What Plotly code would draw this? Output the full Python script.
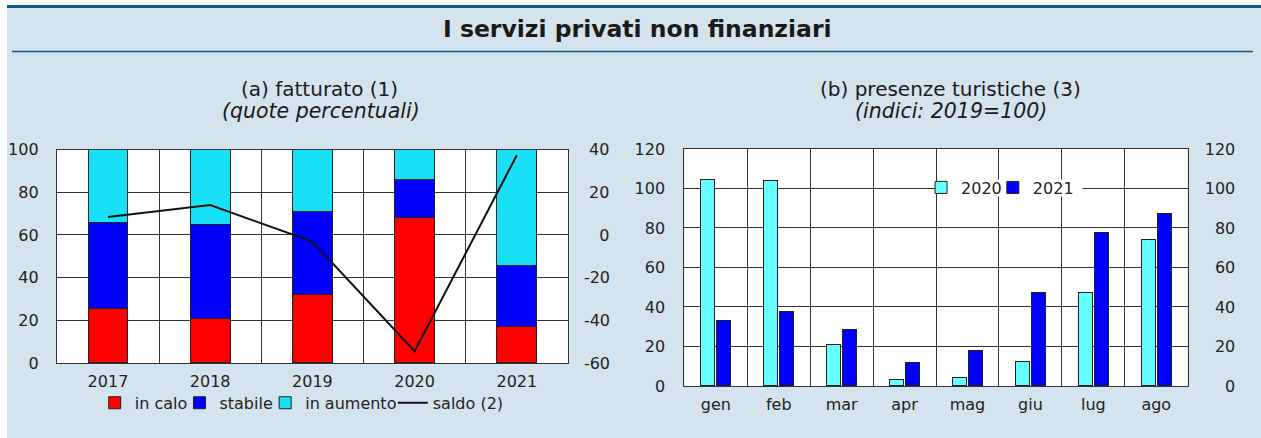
import plotly.graph_objects as go

# ---- data ----
years = ["2017", "2018", "2019", "2020", "2021"]
in_calo = [25.6, 20.9, 32.2, 68.4, 17.1]
stabile = [40.4, 44.2, 38.7, 17.7, 28.4]
in_aumento = [34.0, 34.9, 29.1, 13.9, 54.5]
saldo = [8.4, 14.0, -3.1, -54.5, 37.4]

months = ["gen", "feb", "mar", "apr", "mag", "giu", "lug", "ago"]
pres_2020 = [104.5, 104.0, 21.2, 3.5, 4.4, 12.6, 47.4, 73.9]
pres_2021 = [33.3, 37.9, 28.8, 12.1, 17.7, 47.4, 77.9, 87.5]

quote_ticks = [0, 20, 40, 60, 80, 100]
saldo_ticks = [-60, -40, -20, 0, 20, 40]
saldo_labels = ["-60", "-40", "-20", "\u2008\u20070", "\u200820", "\u200840"]
indici_ticks = [0, 20, 40, 60, 80, 100, 120]
indici_labels_right = ["\u2007\u20070", "\u200720", "\u200740", "\u200760", "\u200780", "100", "120"]

# page: 1261x438 window, default 8px body margin around the figure
PAGE_W, PAGE_H = 1261, 438
OFF = 8
W, H = PAGE_W - 2 * OFF, PAGE_H - 2 * OFF
BG = "#d3e4ee"
DARK = "#0b5c85"
TXT = "#222222"
FONT = "DejaVu Sans, Arial, sans-serif"
GRID = "#333333"
FS = 16

# observed vertical mapping of the photographed page (image_y = A + B * page_y)
A_Y, B_Y = 8.25, 0.958


def px(x):
    """target picture x pixel -> figure paper fraction"""
    return (x - OFF) / W


def py(y):
    """target picture y pixel -> figure paper fraction"""
    page_y = (y - A_Y) / B_Y
    return 1 - (page_y - OFF) / H


fig = go.Figure()

outline = dict(color="#222222", width=1)
fig.add_trace(go.Bar(x=years, y=in_calo, name="in calo", marker=dict(color="#ff0000", line=outline),
                     width=0.39, xaxis="x", yaxis="y", legend="legend"))
fig.add_trace(go.Bar(x=years, y=stabile, name="stabile", marker=dict(color="#0000ff", line=outline),
                     width=0.39, xaxis="x", yaxis="y", legend="legend2"))
fig.add_trace(go.Bar(x=years, y=in_aumento, name="in aumento", marker=dict(color="#19e1f5", line=outline),
                     width=0.39, xaxis="x", yaxis="y", legend="legend3"))
fig.add_trace(go.Scatter(x=years, y=saldo, name="saldo (2)", mode="lines",
                         line=dict(color="#111111", width=2), xaxis="x", yaxis="y2", legend="legend4"))

fig.add_trace(go.Bar(x=months, y=pres_2020, name="2020", marker=dict(color="#66ffff", line=outline),
                     xaxis="x3", yaxis="y3", offsetgroup="b20", legend="legend5"))
fig.add_trace(go.Bar(x=months, y=pres_2021, name="2021", marker=dict(color="#0000ff", line=outline),
                     xaxis="x3", yaxis="y3", offsetgroup="b21", legend="legend6"))
# invisible trace to activate the right axis of panel (b)
fig.add_trace(go.Scatter(x=months, y=pres_2020, xaxis="x3", yaxis="y4", mode="markers",
                         marker=dict(opacity=0), showlegend=False, hoverinfo="skip"))

tfont = dict(family=FONT, size=FS, color=TXT)
ax_common = dict(showline=True, linecolor=GRID, linewidth=1, mirror=True,
                 tickfont=tfont, ticks="", zeroline=False)


def legend_at(text_left, y):
    # plotly puts the legend text ~40 px right of the legend box's left edge
    return dict(orientation="h", x=px(text_left - 44), xanchor="left", y=py(y), yanchor="middle",
                bgcolor="rgba(0,0,0,0)", borderwidth=0, font=tfont, itemwidth=30)


fig.update_layout(
    width=W, height=H,
    margin=dict(l=0, r=0, t=0, b=0),
    paper_bgcolor=BG, plot_bgcolor="white",
    barmode="stack",
    bargap=0.49, bargroupgap=0.125,
    font=dict(family=FONT, size=FS, color=TXT),
    xaxis=dict(domain=[px(53), px(565.7)], anchor="y", type="category", tickson="boundaries",
               showgrid=True, gridcolor=GRID, gridwidth=1, ticklabelstandoff=4, **ax_common),
    yaxis=dict(domain=[py(363), py(149)], anchor="x", range=[0, 100],
               tickvals=quote_ticks,
               showgrid=True, gridcolor=GRID, gridwidth=1, ticklabelstandoff=14, **ax_common),
    yaxis2=dict(overlaying="y", side="right", anchor="x", range=[-60, 40],
                tickvals=saldo_ticks, ticktext=saldo_labels,
                showgrid=False, showline=False, ticks="", zeroline=False,
                tickfont=tfont, ticklabelstandoff=15),
    xaxis3=dict(domain=[px(682.5), px(1187.5)], anchor="y3", type="category", tickson="boundaries",
                showgrid=True, gridcolor=GRID, gridwidth=1, ticklabelstandoff=4, **ax_common),
    yaxis3=dict(domain=[py(386), py(148.3)], anchor="x3", range=[0, 120],
                tickvals=indici_ticks,
                showgrid=True, gridcolor=GRID, gridwidth=1, ticklabelstandoff=15, **ax_common),
    yaxis4=dict(overlaying="y3", side="right", anchor="x3", range=[0, 120],
                tickvals=indici_ticks, ticktext=indici_labels_right,
                showgrid=False, showline=False, ticks="", zeroline=False,
                tickfont=tfont, ticklabelstandoff=16),
    legend=legend_at(135, 403),
    legend2=legend_at(220, 403),
    legend3=legend_at(306, 403),
    legend4=legend_at(434, 403),
    legend5=legend_at(964, 187),
    legend6=legend_at(1036, 187),
)

# white patch behind the panel (b) legend (it interrupts the gridline at 100)
fig.add_shape(type="rect", xref="paper", yref="paper", x0=px(939), x1=px(1082),
              y0=py(196), y1=py(179), fillcolor="white", line=dict(width=0), layer="above")

# decorations (line under the title band)
fig.add_shape(type="line", xref="paper", yref="paper", x0=0, x1=1, y0=py(50.5), y1=py(50.5),
              line=dict(color=DARK, width=1.5))

TT = "#1a1a1a"
fig.add_annotation(text="<b>I servizi privati non finanziari</b>", xref="paper", yref="paper",
                   x=px(636), y=py(27.5), xanchor="center", yanchor="middle", showarrow=False,
                   font=dict(family=FONT, size=23.5, color=TT))
fig.add_annotation(text="(a) fatturato (1)", xref="paper", yref="paper",
                   x=px(316), y=py(88), xanchor="center", yanchor="middle", showarrow=False,
                   font=dict(family=FONT, size=20, color=TT))
fig.add_annotation(text="<i>(quote percentuali)</i>", xref="paper", yref="paper",
                   x=px(318), y=py(110), xanchor="center", yanchor="middle", showarrow=False,
                   font=dict(family=FONT, size=20.5, color=TT))
fig.add_annotation(text="(b) presenze turistiche (3)", xref="paper", yref="paper",
                   x=px(950), y=py(88), xanchor="center", yanchor="middle", showarrow=False,
                   font=dict(family=FONT, size=20, color=TT))
fig.add_annotation(text="<i>(indici: 2019=100)</i>", xref="paper", yref="paper",
                   x=px(950), y=py(110), xanchor="center", yanchor="middle", showarrow=False,
                   font=dict(family=FONT, size=20.5, color=TT))

# page background around the figure: white strip at left/top with the dark rule line
page_bg = ("linear-gradient(to right, #ffffff 0px, #ffffff 7px, rgba(0,0,0,0) 7px),"
           "linear-gradient(to bottom, #ffffff 0px, #ffffff 5px, " + DARK + " 5px, " + DARK + " 7.5px, "
           + BG + " 7.5px)")

fig.write_html(
    "out.html",
    config={"displayModeBar": False},
    post_script="document.body.style.background='" + page_bg + "';"
                "document.body.style.backgroundColor='" + BG + "';",
)
